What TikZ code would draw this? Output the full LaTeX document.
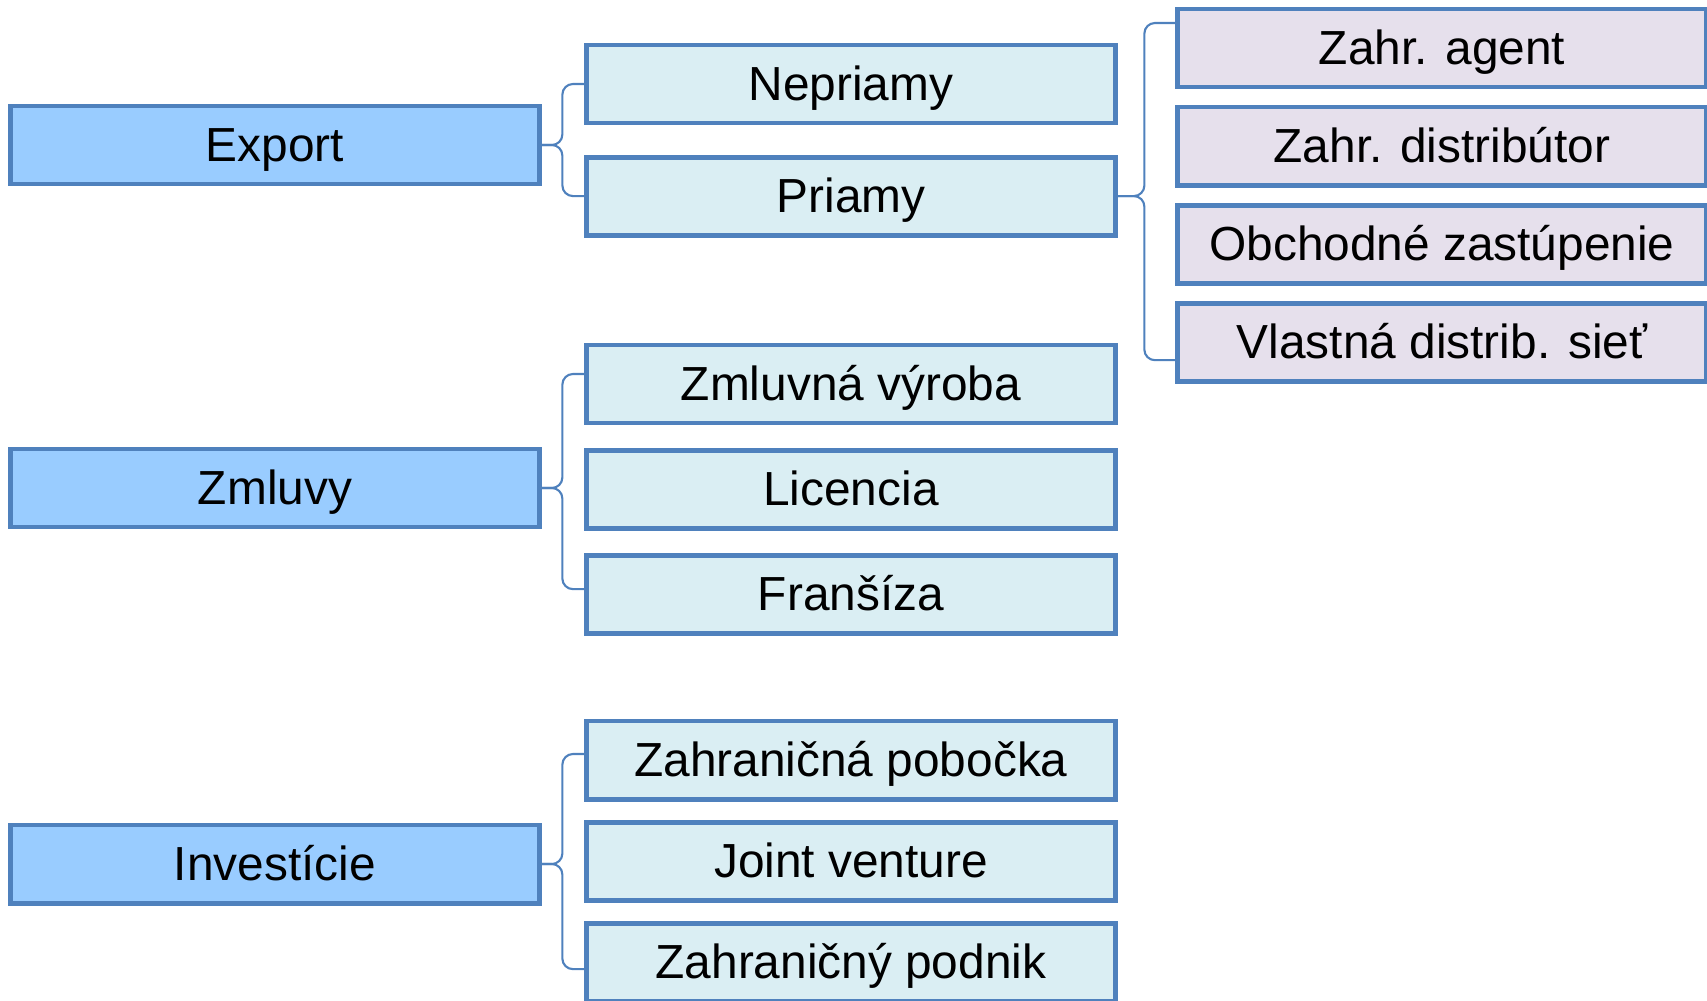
\documentclass[tikz,border=0pt]{standalone}
\usepackage{fontspec}
\setmainfont{Liberation Sans}
\definecolor{boxline}{HTML}{4F81BD}
\definecolor{mainfill}{HTML}{99CCFF}
\definecolor{subfill}{HTML}{DAEEF3}
\definecolor{leaffill}{HTML}{E6E0EC}
\begin{document}
\begin{tikzpicture}[x=0.01cm,y=-0.01cm,node distance=1.02cm,
  font=\fontsize{13.6}{16}\selectfont,
  box/.style={draw=boxline,line width=1.4pt,minimum width=5.28cm,minimum height=0.78cm,
    inner sep=0pt,text height=12.3pt,text depth=2.9pt},
  main node/.style={box,fill=mainfill},
  sub node/.style={box,fill=subfill},
  leaf node/.style={box,fill=leaffill},
  link/.style={draw=boxline,line width=0.6pt,rounded corners=3pt}]

  \useasboundingbox (0,0) rectangle (1707,1000);

  \node[main node] (export) at (275,145) {Export};
  \node[main node] (zmluvy) at (275,488) {Zmluvy};
  \node[main node] (invest) at (275,864) {Investície};

  \node[sub node] (nepriamy) at (851,84) {Nepriamy};
  \node[sub node] (priamy) [below of=nepriamy, node distance=1.12cm] {Priamy};

  \node[sub node] (vyroba) at (851,384) {Zmluvná výroba};
  \node[sub node] (licencia) [below of=vyroba, node distance=1.05cm] {Licencia};
  \node[sub node] (fransiza) [below of=licencia, node distance=1.05cm] {Franšíza};

  \node[sub node] (pobocka) at (851,760) {Zahraničná pobočka};
  \node[sub node] (joint) [below of=pobocka, node distance=1.01cm] {Joint venture};
  \node[sub node] (podnik) [below of=joint, node distance=1.01cm] {Zahraničný podnik};

  \node[leaf node] (agent) at (1442,48) {Zahr. agent};
  \node[leaf node] (distrib) [below of=agent, node distance=0.98cm] {Zahr. distribútor};
  \node[leaf node] (obchod) [below of=distrib, node distance=0.98cm] {Obchodné zastúpenie};
  \node[leaf node] (siet) [below of=obchod, node distance=0.98cm] {Vlastná distrib. sieť};

  % braces: parent -> first and last child of each group
  \draw[link] (export.east) -| ([xshift=-0.22cm]nepriamy.west) -- (nepriamy.west);
  \draw[link] (export.east) -| ([xshift=-0.22cm]priamy.west) -- (priamy.west);
  \draw[link] (zmluvy.east) -| ([xshift=-0.22cm,yshift=0.1cm]vyroba.west) -- ([yshift=0.1cm]vyroba.west);
  \draw[link] (zmluvy.east) -| ([xshift=-0.22cm,yshift=0.05cm]fransiza.west) -- ([yshift=0.05cm]fransiza.west);
  \draw[link] (invest.east) -| ([xshift=-0.22cm,yshift=0.06cm]pobocka.west) -- ([yshift=0.06cm]pobocka.west);
  \draw[link] (invest.east) -| ([xshift=-0.22cm,yshift=-0.07cm]podnik.west) -- ([yshift=-0.07cm]podnik.west);
  \draw[link] (priamy.east) -| ([xshift=-0.31cm,yshift=0.25cm]agent.west) -- ([yshift=0.25cm]agent.west);
  \draw[link] (priamy.east) -| ([xshift=-0.31cm,yshift=-0.18cm]siet.west) -- ([yshift=-0.18cm]siet.west);
\end{tikzpicture}
\end{document}
